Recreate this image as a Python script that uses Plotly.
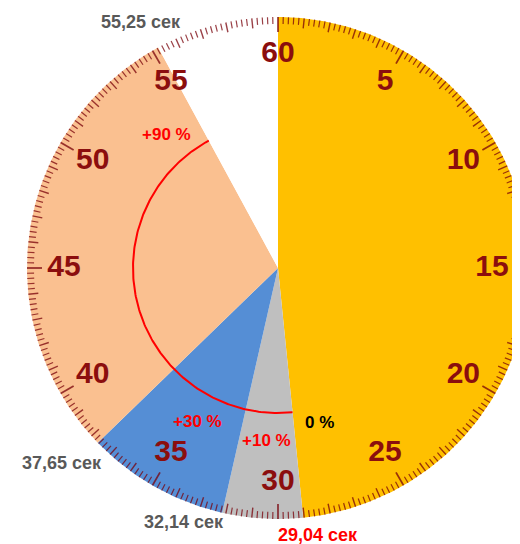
import numpy as np
import plotly.graph_objects as go

# seconds on the dial where each sector starts / ends
bounds = [0.0, 29.04, 32.14, 37.65, 55.25, 60.0]
sector_colors = ["#FFC000", "#BFBFBF", "#558ED5", "#FAC090", "#FFFFFF"]

dial_numbers = [5, 10, 15, 20, 25, 30, 35, 40, 45, 50, 55, 60]

# labels of the sector borders
border_values = [55.25, 37.65, 32.14, 29.04]
border_colors = ["#595959", "#595959", "#595959", "#FF0000"]
border_pos = [(-0.546, 0.980), (-0.861, -0.777), (-0.375, -1.012), (0.159, -1.064)]

# red arc of the growth from 0 % to +90 %
arc_from, arc_to = 29.04, 55.25
pct_labels = ["+90 %", "+30 %", "+10 %", "0 %"]
pct_colors = ["#FF0000", "#FF0000", "#FF0000", "#000000"]
pct_pos = [(-0.446, 0.530), (-0.319, -0.610), (-0.044, -0.689), (0.167, -0.614)]

NUM_COLOR = "#8B0E0E"
PX = 251.0  # pixels per unit radius


def xy(sec, r):
    t = np.asarray(sec) / 60.0 * 2 * np.pi
    return r * np.sin(t), r * np.cos(t)


fig = go.Figure()

# sectors
for a, b, c in zip(bounds[:-1], bounds[1:], sector_colors):
    s = np.linspace(a, b, max(int((b - a) * 8), 4))
    x, y = xy(s, 1.0)
    fig.add_trace(go.Scatter(
        x=np.r_[0, x, 0], y=np.r_[0, y, 0], mode="lines", fill="toself",
        fillcolor=c, line=dict(width=0, color=c), hoverinfo="skip", showlegend=False))

# dial ticks: every 0.2 s, longer every second and every 5 seconds
steps = np.arange(0, 300)
for kind, length, width in [("minor", 7, 1.2), ("mid", 10, 1.4), ("major", 15, 1.8)]:
    if kind == "minor":
        sel = steps[steps % 5 != 0]
    elif kind == "mid":
        sel = steps[(steps % 5 == 0) & (steps % 25 != 0)]
    else:
        sel = steps[steps % 25 == 0]
    xs, ys = [], []
    for k in sel:
        sec = k * 0.2
        x0, y0 = xy(sec, 1.0)
        x1, y1 = xy(sec, 1.0 - length / PX)
        xs += [x0, x1, None]
        ys += [y0, y1, None]
    fig.add_trace(go.Scatter(
        x=xs, y=ys, mode="lines", line=dict(color="rgba(120,0,10,0.75)", width=width),
        hoverinfo="skip", showlegend=False))

# dial numbers
nx, ny = xy(dial_numbers, 214 / PX)
fig.add_trace(go.Scatter(
    x=nx, y=ny, mode="text", text=[str(n) for n in dial_numbers],
    textfont=dict(family="Liberation Sans, Arial", size=30, color=NUM_COLOR, weight="bold"),
    hoverinfo="skip", showlegend=False))

# red arc
s = np.linspace(arc_from, arc_to, 200)
ax_, ay_ = xy(s, 145 / PX)
fig.add_trace(go.Scatter(
    x=ax_, y=ay_, mode="lines", line=dict(color="#FF0000", width=2),
    hoverinfo="skip", showlegend=False))

# border labels
for v, c, (px, py) in zip(border_values, border_colors, border_pos):
    fig.add_annotation(
        x=px, y=py, text=f"{v:.2f}".replace(".", ",") + " сек", showarrow=False,
        font=dict(family="Liberation Sans Narrow, Liberation Sans, Arial", size=18,
                  color=c, weight="bold"))

# percentage labels
for t, c, (px, py) in zip(pct_labels, pct_colors, pct_pos):
    fig.add_annotation(
        x=px, y=py, text=t, showarrow=False,
        font=dict(family="Liberation Sans, Arial", size=17, color=c, weight="bold"))

# page body adds an 8px margin, so the figure is 8px smaller and the centre shifts
W, H = 512, 536
cx, cy = 278.0 - 8, 268.0 - 8
fig.update_xaxes(range=[-cx / PX, (W - cx) / PX], visible=False, fixedrange=True)
fig.update_yaxes(range=[-(H - cy) / PX, cy / PX], visible=False, fixedrange=True)
fig.update_layout(
    width=W, height=H, margin=dict(l=0, r=0, t=0, b=0),
    paper_bgcolor="white", plot_bgcolor="white", showlegend=False)

fig.write_html("out.html")
